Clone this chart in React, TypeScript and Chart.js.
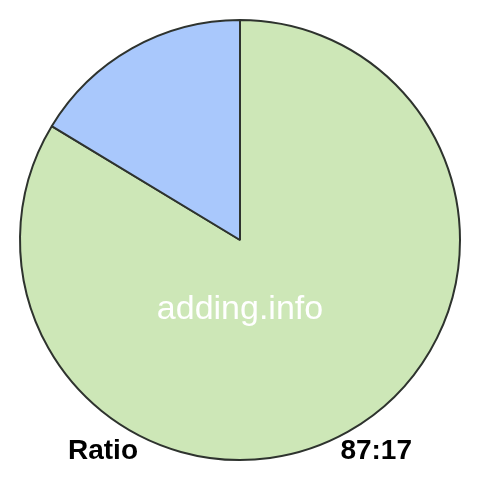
import React, { useEffect, useRef } from 'react';
import { Chart, registerables } from 'chart.js';

Chart.register(...registerables);

const labels = ['87', '17'];
const values = [87, 17];
const colors = ['#cde7b7', '#a9c8fc'];
const watermark = 'adding.info';
const footerLeft = 'Ratio';
const footerRight = '87:17';

// draws the watermark and the footer text on top of the pie
const textPlugin = {
  id: 'ratioText',
  afterDraw(chart: Chart) {
    const { ctx } = chart;
    ctx.save();
    ctx.fillStyle = '#ffffff';
    ctx.font = '34px Arial, "Liberation Sans", sans-serif';
    ctx.textAlign = 'center';
    ctx.textBaseline = 'alphabetic';
    ctx.fillText(watermark, 240, 319);

    ctx.fillStyle = '#000000';
    ctx.font = 'bold 28px Arial, "Liberation Sans", sans-serif';
    ctx.textAlign = 'left';
    ctx.fillText(footerLeft, 68, 459);
    ctx.textAlign = 'right';
    ctx.fillText(footerRight, 412, 459);
    ctx.restore();
  },
};

const App: React.FC = () => {
  const canvasRef = useRef<HTMLCanvasElement>(null);

  useEffect(() => {
    if (!canvasRef.current) return;
    const chart = new Chart(canvasRef.current, {
      type: 'pie',
      data: {
        labels,
        datasets: [
          {
            data: values,
            backgroundColor: colors,
            borderColor: '#2e332e',
            borderWidth: 2,
          },
        ],
      },
      options: {
        responsive: false,
        animation: false,
        layout: { padding: 19 },
        plugins: {
          legend: { display: false },
          tooltip: { enabled: false },
        },
      },
      plugins: [textPlugin],
    });
    return () => chart.destroy();
  }, []);

  return (
    <div style={{ position: 'fixed', left: 0, top: 0, width: 480, height: 480, background: '#fff' }}>
      <canvas ref={canvasRef} width={480} height={480}></canvas>
    </div>
  );
};

export default App;
